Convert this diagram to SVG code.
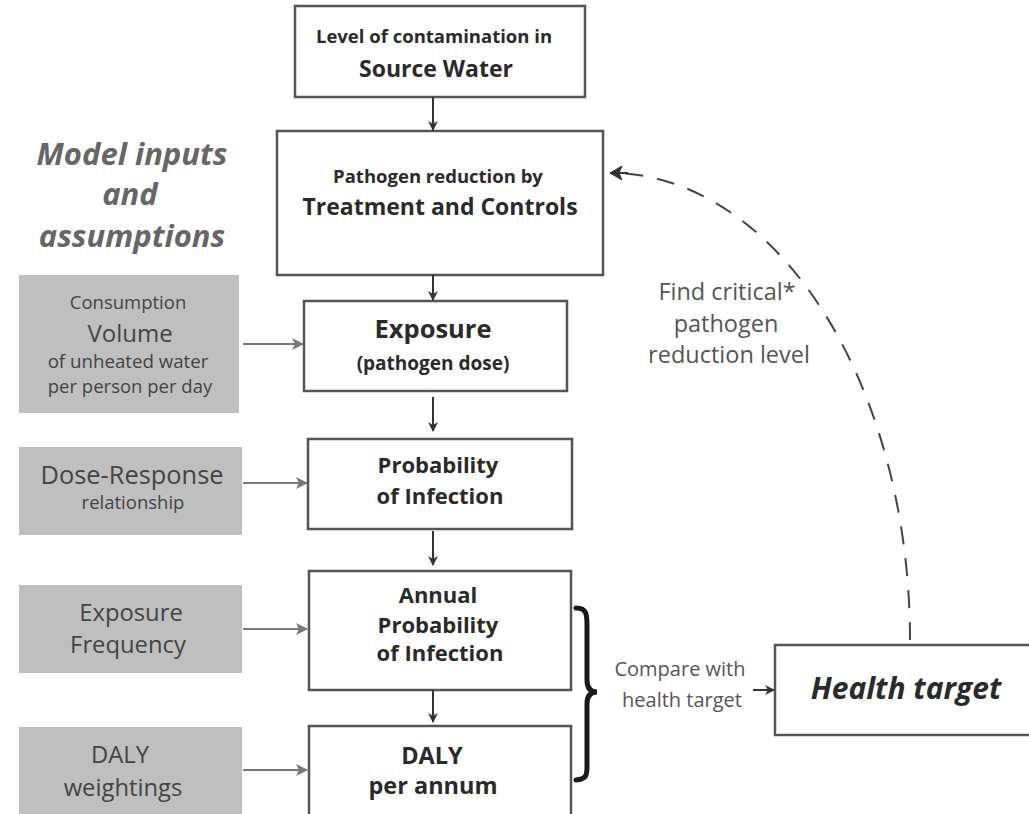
<svg xmlns="http://www.w3.org/2000/svg" width="1029" height="814" viewBox="0 0 1029 814">
<style>
.box{fill:#fff;stroke:#555;stroke-width:2.5}
.gbox{fill:#bfbfbf;stroke:none}
.t{font-family:"Open Sans","Liberation Sans",sans-serif;text-anchor:middle}
.b{font-weight:bold;fill:#2a2a2a}
.g{fill:#444}
.lbl{fill:#555}
.conn{stroke:#333;stroke-width:2;fill:none}
.gconn{stroke:#777;stroke-width:2;fill:none}
</style>
<defs>
<marker id="ah" markerWidth="10" markerHeight="10" refX="9" refY="5" orient="auto" markerUnits="userSpaceOnUse">
<path d="M0,0 L10,5 L0,10 L3,5 Z" fill="#333"/>
</marker>
<marker id="gah" markerWidth="12" markerHeight="12" refX="11" refY="6" orient="auto" markerUnits="userSpaceOnUse">
<path d="M0,0 L12,6 L0,12 L3,6 Z" fill="#777"/>
</marker>
</defs>
<rect width="1029" height="814" fill="#fff"/>

<g id="title">
<text class="t" x="132" y="165" font-size="31" font-weight="bold" font-style="italic" fill="#666">Model inputs</text>
<text class="t" x="130" y="205" font-size="31" font-weight="bold" font-style="italic" fill="#666">and</text>
<text class="t" x="132" y="247" font-size="31" font-weight="bold" font-style="italic" fill="#666">assumptions</text>
</g>

<g id="source">
<rect class="box" x="295" y="6" width="290" height="91"/>
<text class="t b" x="434" y="43" font-size="18.5">Level of contamination in</text>
<text class="t b" x="436" y="77" font-size="23">Source Water</text>
</g>

<g id="treatment">
<rect class="box" x="277" y="131" width="326" height="144"/>
<text class="t b" x="438" y="183" font-size="18.5">Pathogen reduction by</text>
<text class="t b" x="440" y="215" font-size="23">Treatment and Controls</text>
</g>

<g id="exposure">
<rect class="box" x="304" y="301" width="263" height="90"/>
<text class="t b" x="433" y="338" font-size="25.5">Exposure</text>
<text class="t b" x="433" y="370" font-size="19">(pathogen dose)</text>
</g>

<g id="probability">
<rect class="box" x="308" y="439" width="264" height="90"/>
<text class="t b" x="438" y="473" font-size="22">Probability</text>
<text class="t b" x="440" y="504" font-size="22">of Infection</text>
</g>

<g id="annual">
<rect class="box" x="309" y="571" width="262" height="119"/>
<text class="t b" x="438" y="603" font-size="22">Annual</text>
<text class="t b" x="438" y="633" font-size="22">Probability</text>
<text class="t b" x="440" y="661" font-size="22">of Infection</text>
</g>

<g id="daly">
<rect class="box" x="309" y="726" width="262" height="100"/>
<text class="t b" x="432" y="764" font-size="23.5">DALY</text>
<text class="t b" x="433" y="794" font-size="23.5">per annum</text>
</g>

<g id="consumption">
<rect class="gbox" x="19" y="275" width="220" height="138"/>
<text class="t g" x="128" y="309" font-size="18.5">Consumption</text>
<text class="t g" x="130" y="342" font-size="24">Volume</text>
<text class="t g" x="128" y="368" font-size="18.7">of unheated water</text>
<text class="t g" x="130" y="393" font-size="18.5">per person per day</text>
</g>

<g id="doseresponse">
<rect class="gbox" x="19" y="447" width="223" height="88"/>
<text class="t g" x="132" y="484" font-size="25.4">Dose-Response</text>
<text class="t g" x="133" y="509" font-size="18.5">relationship</text>
</g>

<g id="frequency">
<rect class="gbox" x="19" y="585" width="223" height="88"/>
<text class="t g" x="131" y="621" font-size="23.8">Exposure</text>
<text class="t g" x="128" y="653" font-size="23.8">Frequency</text>
</g>

<g id="weightings">
<rect class="gbox" x="19" y="727" width="223" height="100"/>
<text class="t g" x="120" y="763" font-size="23.8">DALY</text>
<text class="t g" x="123" y="796" font-size="23.8">weightings</text>
</g>

<g id="healthtarget">
<rect class="box" x="775" y="645" width="270" height="90"/>
<text class="t" x="906" y="699" font-size="30" font-weight="bold" font-style="italic" fill="#2a2a2a">Health target</text>
</g>

<g id="connectors">
<line class="conn" x1="433" y1="97" x2="433" y2="130" marker-end="url(#ah)"/>
<line class="conn" x1="433" y1="275" x2="433" y2="300" marker-end="url(#ah)"/>
<line class="conn" x1="433" y1="397" x2="433" y2="431" marker-end="url(#ah)"/>
<line class="conn" x1="433" y1="531" x2="433" y2="565" marker-end="url(#ah)"/>
<line class="conn" x1="433" y1="690" x2="433" y2="722" marker-end="url(#ah)"/>
<line class="gconn" x1="243" y1="344" x2="303" y2="344" marker-end="url(#gah)"/>
<line class="gconn" x1="243" y1="483" x2="307" y2="483" marker-end="url(#gah)"/>
<line class="gconn" x1="243" y1="629" x2="307" y2="629" marker-end="url(#gah)"/>
<line class="gconn" x1="243" y1="770" x2="307" y2="770" marker-end="url(#gah)"/>
<path d="M576,608 C588,608 587,616 587,630 L587,680 C587,688 590,692 597,692 C590,692 587,696 587,704 L587,762 C587,774 588,779 576,780" fill="none" stroke="#1a1a1a" stroke-width="5" stroke-linecap="round"/>
<line class="conn" x1="753" y1="690" x2="774" y2="690" marker-end="url(#ah)"/>
<path d="M910,640 A300,467 0 0 0 624,173.5" fill="none" stroke="#444" stroke-width="2" stroke-dasharray="18,14"/>
<path d="M610,173 L622,166 L619,173 L622,180 Z" fill="#333" stroke="#333" stroke-width="1"/>
<line x1="610" y1="173" x2="628" y2="173" stroke="#333" stroke-width="2"/>
</g>

<g id="labels">
<text class="t lbl" x="727" y="300" font-size="23.5">Find critical*</text>
<text class="t lbl" x="726" y="332" font-size="23.5">pathogen</text>
<text class="t lbl" x="729" y="363" font-size="23.5">reduction level</text>
<text class="t lbl" x="680" y="676" font-size="20">Compare with</text>
<text class="t lbl" x="682" y="707" font-size="20">health target</text>
</g>
</svg>
